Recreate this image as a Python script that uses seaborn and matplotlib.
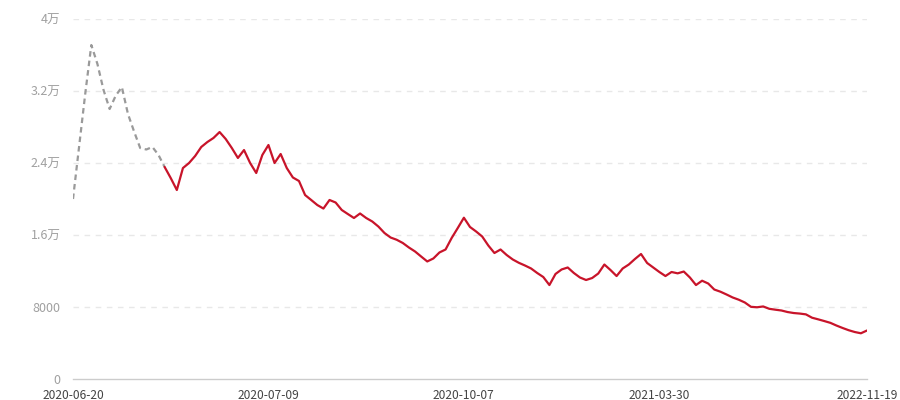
import numpy as np
import pandas as pd
import matplotlib
matplotlib.use("Agg")
import matplotlib.pyplot as plt
import seaborn as sns

# values, one per category on the x axis
values = [
    20000, 25830, 31670, 37110, 35000, 32110, 30000, 31490, 32440, 29440,
    27500, 25670, 25500, 25780, 24890, 23560, 22330, 21000, 23440, 24000,
    24780, 25780, 26330, 26780, 27440, 26670, 25670, 24560, 25440, 24000,
    22890, 24890, 26000, 24000, 25000, 23440, 22390, 22000, 20440, 19890,
    19330, 18940, 19890, 19610, 18780, 18330, 17890, 18390, 17890, 17500,
    16940, 16220, 15720, 15470, 15110, 14610, 14170, 13610, 13060, 13390,
    14060, 14390, 15670, 16780, 17920, 16890, 16390, 15830, 14830, 14000,
    14390, 13780, 13280, 12910, 12610, 12280, 11780, 11330, 10440, 11670,
    12170, 12390, 11780, 11280, 11000, 11220, 11720, 12720, 12110, 11440,
    12280, 12720, 13330, 13890, 12890, 12390, 11890, 11440, 11890, 11740,
    11940, 11280, 10440, 10920, 10610, 9940, 9700, 9390, 9060, 8810,
    8500, 8020, 7970, 8060, 7800, 7700, 7610, 7440, 7330, 7270,
    7180, 6810, 6630, 6440, 6240, 5940, 5670, 5420, 5220, 5080,
    5390,
]
# first part of the series is drawn grey dashed, the rest red
split_idx = 15

tick_idx = [0, 32, 64, 96, 130]
tick_labels = ["2020-06-20", "2020-07-09", "2020-10-07", "2021-03-30", "2022-11-19"]

y_ticks = [0, 8000, 16000, 24000, 32000, 40000]
y_labels = ["0", "8000", "1.6万", "2.4万", "3.2万", "4万"]

df = pd.DataFrame({"idx": np.arange(len(values)), "value": values})
df_est = df.iloc[:split_idx + 1]
df_act = df.iloc[split_idx:]

sns.set_style("white")
plt.rcParams["font.family"] = ["Noto Sans CJK SC", "DejaVu Sans"]

fig = plt.figure(figsize=(9, 4), dpi=100)
ax = fig.add_axes([73 / 900, 1 - 379 / 400, (867 - 73) / 900, (379 - 19) / 400])

sns.lineplot(data=df_est, x="idx", y="value", ax=ax, color="#9a9a9a",
             linewidth=1.6, linestyle=(0, (2.5, 1.8)))
sns.lineplot(data=df_act, x="idx", y="value", ax=ax, color="#c8142a",
             linewidth=1.6)

ax.set_xlim(0, len(values) - 1)
ax.set_ylim(0, 40000)
ax.set_xlabel("")
ax.set_ylabel("")

ax.set_yticks(y_ticks)
ax.set_yticklabels(y_labels)
ax.set_xticks(tick_idx)
ax.set_xticklabels(tick_labels)

for y in y_ticks[1:]:
    ax.axhline(y, color="#e8e8e8", linewidth=1, linestyle=(0, (4, 4)), zorder=0)

for side in ["top", "right", "left"]:
    ax.spines[side].set_visible(False)
ax.spines["bottom"].set_color("#cccccc")
ax.spines["bottom"].set_linewidth(1)

ax.tick_params(axis="y", length=0, pad=9, labelsize=9, labelcolor="#a0a0a0")
ax.tick_params(axis="x", length=4, width=1, color="#cccccc", pad=3,
               labelsize=8.6, labelcolor="#444444")

fig.savefig("out.png", dpi=100)
